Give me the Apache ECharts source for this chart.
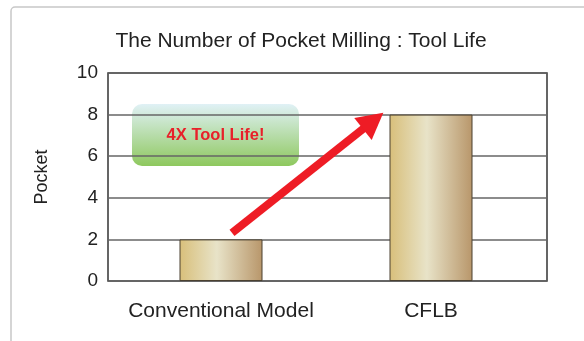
<!DOCTYPE html>
<html>
<head>
<meta charset="utf-8">
<script src="https://cdn.jsdelivr.net/npm/echarts@6/dist/echarts.min.js"></script>
<style>
  html, body { margin: 0; padding: 0; background: #fff; }
  #chart { width: 584px; height: 341px; }
</style>
</head>
<body>
<div id="chart"></div>
<script>
// chart data
const categories = ['Conventional Model', 'CFLB']
const pocketCounts = [2, 8]
const yTicks = [0, 2, 4, 6, 8, 10]
// arrow annotation: [x position along the two categories (0..2), value]
const arrowStart = [0.565, 2.31]
const arrowEnd = [1.208, 7.7]
const calloutText = '4X Tool Life!'

const FONT = '"Liberation Sans", Arial, sans-serif'

const barFill = new echarts.graphic.LinearGradient(0, 0, 1, 0, [
  { offset: 0, color: '#d8bf7a' },
  { offset: 0.45, color: '#e8e3c8' },
  { offset: 1, color: '#b8966a' },
])

const chart = echarts.init(document.getElementById('chart'))

chart.setOption({
  animation: false,
  backgroundColor: '#fff',
  title: {
    text: 'The Number of Pocket Milling : Tool Life',
    left: 296,
    textAlign: 'center',
    top: 26,
    textStyle: { fontFamily: FONT, fontSize: 21, fontWeight: 'normal', color: '#222' },
  },
  grid: [
    // frame + gridlines
    { left: 108, right: 37, top: 73, bottom: 60, show: true, borderColor: '#333', borderWidth: 1.5, backgroundColor: 'transparent' },
    // bars + category labels (centres sit a little inside the frame)
    { left: 116, right: 48, top: 73, bottom: 60 },
  ],
  xAxis: [
    { gridIndex: 0, type: 'value', min: 0, max: 2, show: false },
    {
      gridIndex: 1,
      type: 'category',
      data: categories,
      axisLine: { show: false },
      axisTick: { show: false },
      axisLabel: { interval: 0, hideOverlap: false, margin: 20, fontFamily: FONT, fontSize: 21, color: '#222' },
    },
  ],
  yAxis: [
    {
      gridIndex: 0,
      type: 'value',
      min: 0,
      max: 10,
      interval: 2,
      name: 'Pocket',
      nameLocation: 'middle',
      nameGap: 57,
      nameTextStyle: { fontFamily: FONT, fontSize: 18, color: '#222' },
      axisLine: { show: false },
      axisTick: { show: false },
      axisLabel: {
        margin: 10,
        fontFamily: FONT,
        fontSize: 19,
        color: '#222',
        formatter: (v) => (yTicks.includes(v) ? String(v) : ''),
      },
      splitLine: { lineStyle: { color: '#666', width: 1.5 } },
    },
    { gridIndex: 1, type: 'value', min: 0, max: 10, show: false },
  ],
  series: [
    {
      type: 'bar',
      xAxisIndex: 1,
      yAxisIndex: 1,
      data: pocketCounts,
      barWidth: 83,
      itemStyle: { color: barFill, borderColor: '#4a4030', borderWidth: 1 },
      z: 3,
    },
    {
      // carries the red arrow
      type: 'line',
      xAxisIndex: 0,
      yAxisIndex: 0,
      data: [],
      markLine: {
        silent: true,
        symbol: ['none', 'triangle'],
        symbolSize: [28, 26],
        label: { show: false },
        lineStyle: { color: '#ee1c25', width: 8, type: 'solid' },
        data: [[{ coord: arrowStart }, { coord: arrowEnd }]],
      },
      z: 5,
    },
  ],
  graphic: [
    {
      // outer page frame
      type: 'rect',
      shape: { x: 11, y: 7, width: 620, height: 400, r: [4, 0, 0, 0] },
      style: { fill: 'none', stroke: '#c8c8c8', lineWidth: 1.5 },
      silent: true,
    },
    {
      type: 'group',
      left: 132,
      top: 104,
      z: 10,
      children: [
        {
          type: 'rect',
          shape: { x: 0, y: 0, width: 167, height: 62, r: 10 },
          style: {
            fill: new echarts.graphic.LinearGradient(0, 0, 0, 1, [
              { offset: 0, color: '#e0f1f6' },
              { offset: 1, color: '#8ec85e' },
            ]),
          },
        },
        {
          type: 'text',
          x: 83.5,
          y: 31,
          style: {
            text: calloutText,
            align: 'center',
            verticalAlign: 'middle',
            fill: '#e8202a',
            font: 'bold 16.5px ' + FONT,
          },
        },
      ],
    },
  ],
})

window.addEventListener('resize', () => chart.resize())
</script>
</body>
</html>
